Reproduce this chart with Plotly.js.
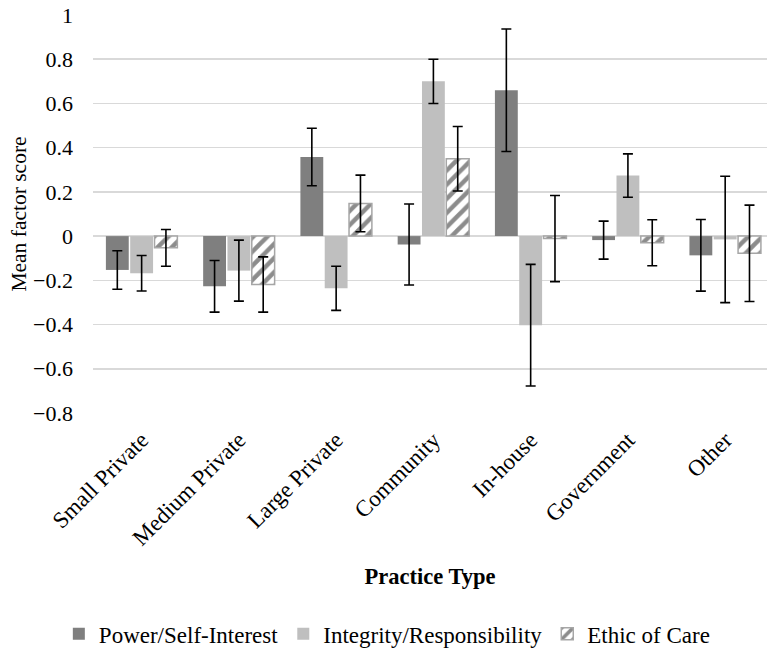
<!DOCTYPE html>
<html>
<head>
<meta charset="utf-8">
<script src="https://cdn.plot.ly/plotly-3.0.1.min.js"></script>
<style>html,body{margin:0;padding:0;background:#fff;}#chart{width:767px;height:648px;}</style>
</head>
<body>
<div id="chart"></div>
<script>
const categories = ["Small Private", "Medium Private", "Large Private", "Community", "In-house", "Government", "Other"];
const seriesNames = ["Power/Self-Interest", "Integrity/Responsibility", "Ethic of Care"];
const powerValues = [-0.153, -0.227, 0.358, -0.038, 0.660, -0.018, -0.087];
const powerErrors = [0.087, 0.117, 0.130, 0.183, 0.277, 0.086, 0.162];
const integrityValues = [-0.168, -0.156, -0.236, 0.700, -0.403, 0.274, -0.015];
const integrityErrors = [0.080, 0.138, 0.100, 0.100, 0.275, 0.098, 0.286];
const careValues = [-0.053, -0.219, 0.148, 0.350, -0.011, -0.030, -0.078];
const careErrors = [0.083, 0.125, 0.128, 0.146, 0.195, 0.104, 0.218];
const yTickValues = [-0.8, -0.6, -0.4, -0.2, 0, 0.2, 0.4, 0.6, 0.8, 1];

const FONT = "Liberation Serif, Times New Roman, serif";
const err = (arr) => ({type: "data", array: arr, visible: true, color: "#000000", thickness: 1.6, width: 5});

const traces = [
  {
    type: "bar", name: seriesNames[0], x: categories, y: powerValues,
    marker: {color: "#7f7f7f"},
    error_y: err(powerErrors)
  },
  {
    type: "bar", name: seriesNames[1], x: categories, y: integrityValues,
    marker: {color: "#bfbfbf"},
    error_y: err(integrityErrors)
  },
  {
    type: "bar", name: seriesNames[2], x: categories, y: careValues,
    marker: {
      color: "#ffffff",
      line: {color: "#a6a6a6", width: 1.5},
      pattern: {shape: "/", fgcolor: "#8c8c8c", bgcolor: "#ffffff", size: 10, solidity: 0.45}
    },
    error_y: err(careErrors)
  }
];

const layout = {
  width: 767, height: 648,
  margin: {l: 93, r: 0, t: 15, b: 235},
  paper_bgcolor: "#ffffff", plot_bgcolor: "#ffffff",
  font: {family: FONT, size: 22, color: "#000000"},
  barmode: "group", bargap: 0.25, bargroupgap: 0.06,
  showlegend: true,
  legend: {
    orientation: "h", xref: "container", yref: "container",
    x: 0.505, xanchor: "center", y: 0.022, yanchor: "middle",
    font: {family: FONT, size: 23, color: "#000000"},
    itemwidth: 30, traceorder: "normal"
  },
  xaxis: {
    type: "category", range: [-0.5, 6.43],
    tickangle: -45, showgrid: false, showline: false, zeroline: false,
    ticks: "", ticklabelstandoff: 8, tickfont: {family: FONT, size: 23},
    title: {text: "<b>Practice Type</b>", font: {family: FONT, size: 22.5}, standoff: 18},
    automargin: false
  },
  yaxis: {
    range: [-0.8, 1], tickvals: yTickValues,
    showgrid: true, gridcolor: "#d9d9d9", gridwidth: 1.5,
    zeroline: true, zerolinecolor: "#d9d9d9", zerolinewidth: 1.5,
    showline: false, ticks: "", ticklabelstandoff: 19,
    tickfont: {family: FONT, size: 22},
    title: {text: "Mean factor score", font: {family: FONT, size: 21.5}, standoff: 0},
    automargin: false
  }
};

Plotly.newPlot("chart", traces, layout, {displayModeBar: false, staticPlot: true});
</script>
</body>
</html>
